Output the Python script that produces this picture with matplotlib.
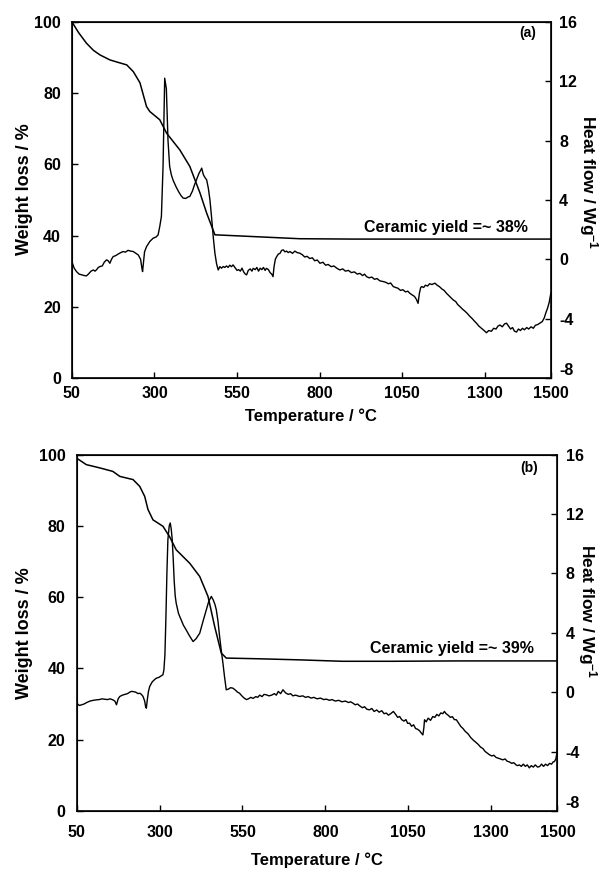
import matplotlib.pyplot as plt

plt.rcParams['font.family'] = ['Liberation Sans', 'DejaVu Sans']
plt.rcParams['font.weight'] = 'bold'
plt.rcParams['axes.unicode_minus'] = False
plt.rcParams['mathtext.fontset'] = 'custom'
plt.rcParams['mathtext.rm'] = 'Liberation Sans:bold'
plt.rcParams['mathtext.bf'] = 'Liberation Sans:bold'
plt.rcParams['mathtext.default'] = 'rm'

# Panel (a) - TGA
temp_a_tga = [50, 70, 94, 115, 135, 165, 190, 216, 236, 256, 276, 286, 316, 337, 377, 407,
              438, 458, 483, 600, 740, 900, 1100, 1300, 1500]
wt_a = [100, 97, 94, 92, 90.7, 89.3, 88.6, 87.9, 86, 82.9, 76.2, 74.8, 72.5, 68.7, 64, 59.4,
        51.9, 46.3, 40.2, 39.7, 39.1, 39, 39, 39, 39]

# Panel (a) - DSC
temp_a_dsc = [50, 57, 64, 72, 80, 88, 94, 100, 108, 115, 120, 125, 130, 135, 142, 148, 155, 160,
              165, 170, 175, 183, 190, 198, 205, 212, 220, 228, 236, 244, 251, 258, 262, 264, 267,
              270, 276, 286, 296, 305, 311, 316, 321, 326, 331, 336, 341, 346, 351, 356, 365, 372,
              380, 387, 395, 402, 407, 415, 421, 427, 435, 440, 443, 448, 453, 458, 463, 468, 473,
              478, 483, 488, 493, 498, 503, 508, 513, 518, 523, 528, 533, 538, 545, 550, 555, 560,
              565, 570, 575, 579, 584, 590, 595, 599, 605, 610, 615, 620, 625, 630, 635, 639, 645,
              650, 655, 659, 662, 666, 670, 675, 680, 685, 690, 695, 700, 705, 710, 718, 725, 732,
              740, 748, 755, 762, 770, 778, 785, 793, 801, 810, 818, 826, 835, 843, 852, 861, 870,
              878, 887, 896, 905, 914, 922, 930, 936, 942, 950, 958, 966, 974, 982, 992, 1000,
              1008, 1015, 1023, 1030, 1037, 1045, 1052, 1060, 1067, 1073, 1080, 1087, 1093, 1098,
              1102, 1106, 1109, 1115, 1120, 1127, 1133, 1140, 1149, 1156, 1163, 1170, 1177, 1184,
              1191, 1198, 1205, 1212, 1218, 1225, 1232, 1240, 1247, 1255, 1262, 1268, 1275, 1282,
              1290, 1298, 1305, 1312, 1320, 1327, 1334, 1340, 1346, 1353, 1360, 1366, 1372, 1378,
              1384, 1390, 1396, 1402, 1408, 1414, 1420, 1427, 1433, 1440, 1447, 1453, 1460, 1467,
              1474, 1480, 1485, 1490, 1495, 1500]
hf_a = [-0.16, -0.6, -0.83, -1.0, -1.05, -1.1, -1.12, -1.0, -0.8, -0.72, -0.8, -0.7, -0.55, -0.49,
        -0.45, -0.2, -0.04, -0.1, -0.27, 0.0, 0.18, 0.25, 0.35, 0.45, 0.52, 0.48, 0.6, 0.55, 0.52,
        0.4, 0.29, 0.0, -0.6, -0.83, -0.2, 0.5, 0.85, 1.2, 1.42, 1.5, 1.64, 2.2, 2.88, 6.25, 12.2,
        11.5, 8.0, 6.25, 5.7, 5.35, 4.9, 4.6, 4.3, 4.12, 4.1, 4.2, 4.23, 4.6, 5.0, 5.35, 5.8, 6.0,
        6.14, 5.7, 5.5, 5.35, 4.8, 4.0, 2.8, 1.5, 0.41, -0.3, -0.72, -0.5, -0.6, -0.49, -0.55,
        -0.45, -0.55, -0.4, -0.5, -0.38, -0.6, -0.75, -0.7, -0.8, -0.6, -0.85, -1.0, -1.05, -0.75,
        -0.65, -0.8, -0.61, -0.7, -0.55, -0.8, -0.6, -0.7, -0.55, -0.75, -0.61, -0.7, -0.9, -1.0,
        -1.17, -0.5, 0.0, 0.18, 0.35, 0.4, 0.6, 0.63, 0.5, 0.55, 0.45, 0.52, 0.4, 0.55, 0.45,
        0.41, 0.3, 0.15, 0.2, 0.05, 0.1, -0.1, -0.05, -0.27, -0.2, -0.4, -0.35, -0.5, -0.45, -0.6,
        -0.72, -0.65, -0.8, -0.75, -0.9, -0.85, -1.0, -0.95, -1.1, -1.0, -1.17, -1.25, -1.2, -1.35,
        -1.3, -1.45, -1.5, -1.55, -1.65, -1.6, -1.84, -1.9, -1.95, -2.1, -2.05, -2.2, -2.15, -2.29,
        -2.4, -2.5, -2.7, -2.97, -2.3, -1.9, -1.84, -1.9, -1.75, -1.8, -1.65, -1.7, -1.61, -1.75,
        -1.85, -2.0, -2.1, -2.29, -2.45, -2.6, -2.75, -2.85, -3.05, -3.19, -3.35, -3.5, -3.65,
        -3.85, -4.0, -4.15, -4.31, -4.5, -4.65, -4.8, -4.95, -4.8, -4.85, -4.65, -4.7, -4.5,
        -4.43, -4.55, -4.35, -4.31, -4.5, -4.7, -4.6, -4.85, -4.9, -4.7, -4.8, -4.65, -4.75, -4.6,
        -4.7, -4.55, -4.65, -4.45, -4.4, -4.3, -4.2, -3.95, -3.6, -3.3, -2.9, -2.29]

# Panel (b) - TGA
temp_b_tga = [50, 79, 119, 159, 180, 220, 240, 255, 265, 280, 310, 330, 350, 391, 421, 446, 466,
              486, 501, 600, 722, 850, 1000, 1200, 1500]
wt_b = [99, 97.2, 96.3, 95.3, 93.9, 93, 91.1, 88.3, 84.6, 81.7, 79.9, 77, 73.3, 69.5, 65.8, 60.2,
        51.8, 44.3, 42.9, 42.7, 42.4, 42.0, 42.0, 42.1, 42.1]

# Panel (b) - DSC
temp_b_dsc = [50, 58, 65, 72, 80, 90, 100, 109, 118, 127, 135, 143, 151, 159, 165, 170, 175, 180,
              188, 195, 203, 210, 215, 220, 228, 235, 240, 245, 250, 255, 258, 260, 263, 266, 270,
              278, 285, 290, 298, 305, 310, 313, 316, 319, 322, 325, 329, 332, 335, 338, 341, 344,
              347, 350, 357, 365, 372, 380, 390, 401, 410, 421, 430, 441, 448, 456, 462, 467, 471,
              476, 481, 486, 491, 496, 501, 507, 514, 521, 528, 535, 541, 548, 555, 562, 568, 575,
              582, 590, 596, 602, 609, 615, 622, 630, 638, 646, 652, 658, 665, 672, 680, 688, 695,
              702, 710, 722, 732, 740, 748, 757, 765, 775, 785, 795, 803, 812, 820, 830, 840, 850,
              860, 870, 876, 883, 890, 897, 905, 912, 918, 925, 933, 940, 947, 955, 962, 970, 977,
              984, 990, 997, 1005, 1012, 1018, 1024, 1030, 1037, 1043, 1048, 1054, 1060, 1066,
              1072, 1078, 1084, 1089, 1094, 1097, 1099, 1104, 1110, 1117, 1124, 1130, 1136, 1142,
              1148, 1154, 1159, 1164, 1170, 1177, 1183, 1189, 1195, 1202, 1208, 1215, 1222, 1230,
              1238, 1245, 1252, 1260, 1268, 1275, 1282, 1288, 1295, 1302, 1308, 1315, 1322, 1328,
              1335, 1342, 1348, 1355, 1362, 1368, 1375, 1380, 1385, 1391, 1397, 1403, 1409, 1415,
              1421, 1427, 1433, 1440, 1446, 1452, 1458, 1464, 1470, 1476, 1482, 1487, 1491, 1495,
              1500]
hf_b = [-0.74, -0.9, -0.85, -0.8, -0.7, -0.6, -0.55, -0.52, -0.5, -0.45, -0.48, -0.5, -0.45,
        -0.52, -0.6, -0.85, -0.45, -0.29, -0.2, -0.15, -0.1, 0.0, 0.05, 0.04, 0.0, -0.1, -0.07,
        -0.15, -0.29, -0.6, -1.0, -1.08, -0.5, 0.0, 0.38, 0.7, 0.85, 0.94, 1.0, 1.1, 1.17, 1.5,
        2.5, 5.0, 8.0, 10.27, 11.2, 11.4, 11.0, 10.3, 9.0, 7.5, 6.5, 6.0, 5.3, 4.88, 4.5, 4.2, 3.8,
        3.41, 3.6, 3.97, 4.7, 5.55, 6.1, 6.45, 6.2, 5.9, 5.55, 4.8, 3.74, 2.8, 1.96, 1.0, 0.16,
        0.2, 0.3, 0.27, 0.15, 0.0, -0.07, -0.25, -0.4, -0.5, -0.45, -0.35, -0.42, -0.3, -0.35,
        -0.2, -0.3, -0.15, -0.18, -0.25, -0.2, -0.1, -0.2, 0.05, -0.1, 0.16, -0.05, -0.15, -0.1,
        -0.25, -0.2, -0.29, -0.25, -0.35, -0.3, -0.4, -0.35, -0.45, -0.4, -0.5, -0.47, -0.55,
        -0.5, -0.6, -0.55, -0.65, -0.6, -0.7, -0.65, -0.74, -0.85, -0.8, -0.95, -1.05, -0.98,
        -1.15, -1.19, -1.1, -1.3, -1.2, -1.35, -1.25, -1.45, -1.41, -1.55, -1.45, -1.3, -1.5,
        -1.7, -1.64, -1.85, -1.95, -1.85, -2.1, -2.09, -2.3, -2.2, -2.45, -2.5, -2.6, -2.75, -2.88,
        -2.4, -1.86, -2.0, -1.75, -1.9, -1.64, -1.7, -1.5, -1.6, -1.4, -1.45, -1.3, -1.45, -1.55,
        -1.7, -1.65, -1.85, -1.86, -2.1, -2.3, -2.45, -2.65, -2.8, -3.05, -3.21, -3.35, -3.5,
        -3.7, -3.8, -4.0, -4.1, -4.22, -4.3, -4.25, -4.4, -4.45, -4.5, -4.56, -4.5, -4.65, -4.7,
        -4.8, -4.75, -4.9, -4.95, -4.9, -5.0, -4.85, -5.0, -4.9, -5.1, -4.95, -5.05, -4.9, -5.05,
        -5.01, -4.85, -5.0, -4.85, -4.95, -4.8, -4.85, -4.7, -4.67, -4.5, -3.88]

fig = plt.figure(figsize=(6.04, 8.71), dpi=100)

panels = [
    # rect, tga, dsc, tag + pos, note + height, label coords, x tick pad
    ([0.119, 0.566, 0.793, 0.409], temp_a_tga, wt_a, temp_a_dsc, hf_a, "(a)", (0.952, 0.969),
     "Ceramic yield =~ 38%", 40.2, (-0.081, 0.53), (1.102, 0.55), -0.085, 6),
    ([0.127, 0.069, 0.796, 0.409], temp_b_tga, wt_b, temp_b_dsc, hf_b, "(b)", (0.942, 0.963),
     "Ceramic yield =~ 39%", 43.4, (-0.091, 0.50), (1.086, 0.56), -0.118, 10),
]

for rect, tt, ww, td, hh, tag, tag_xy, note, note_y, lc, rc, xl, xpad in panels:
    ax = fig.add_axes(rect)
    ax.plot(tt, ww, color="black", lw=1.1)
    ax.set_xlim(50, 1500)
    ax.set_ylim(0, 100)
    ax.set_xticks([50, 300, 550, 800, 1050, 1300, 1500])
    ax.set_yticks([0, 20, 40, 60, 80, 100])
    ax.set_ylabel("Weight loss / %", fontsize=13, fontweight="bold")
    ax.set_xlabel("Temperature / °C", fontsize=12, fontweight="bold")
    ax.yaxis.set_label_coords(*lc)
    ax.xaxis.set_label_coords(0.5, xl)
    ax.tick_params(direction="in", length=4, labelsize=11.5, width=1)
    ax.tick_params(axis="x", pad=xpad)
    ax.tick_params(axis="y", pad=8)
    for s in ax.spines.values():
        s.set_linewidth(1.2)
    ax.text(tag_xy[0], tag_xy[1], tag, transform=ax.transAxes, ha="center", va="center",
            fontsize=10, fontweight="bold")
    ax.text(1182, note_y, note, ha="center", va="bottom", fontsize=11.5, fontweight="bold")

    ax2 = ax.twinx()
    ax2.plot(td, hh, color="black", lw=1.0)
    ax2.set_ylim(-8, 16)
    ax2.set_yticks([-8, -4, 0, 4, 8, 12, 16])
    ax2.set_ylabel("Heat flow / Wg$^{-1}$", fontsize=12.5, fontweight="bold", rotation=270)
    ax2.yaxis.set_label_coords(*rc)
    ax2.tick_params(direction="in", length=4, labelsize=11.5, width=1, pad=6)
    ax2.get_yticklabels()[0].set_va("bottom")

fig.savefig("out.png", dpi=100)
